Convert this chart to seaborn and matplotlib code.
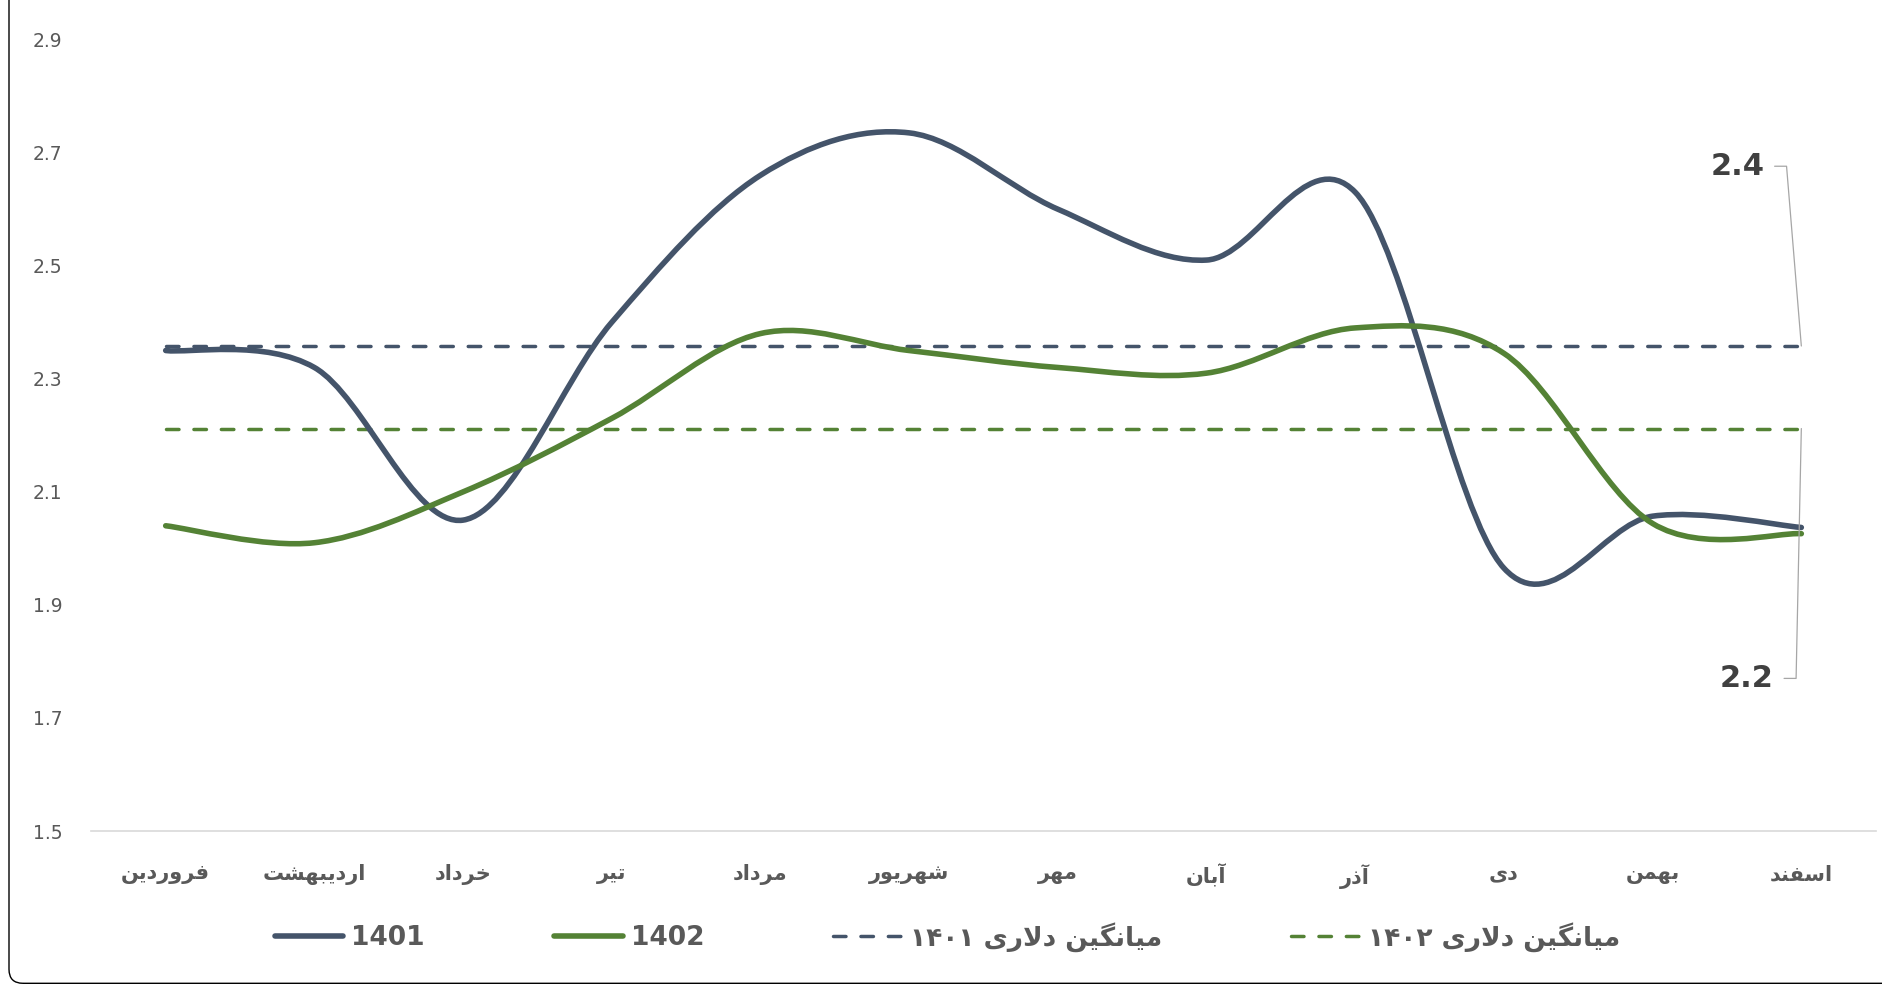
import re
import numpy as np
import matplotlib
matplotlib.use('Agg')
import matplotlib.pyplot as plt
import seaborn as sns
from matplotlib.path import Path
from matplotlib.patches import PathPatch, FancyBboxPatch
from matplotlib.lines import Line2D
from matplotlib.transforms import IdentityTransform

# ── data ────────────────────────────────────────────────────
months = ['فروردین', 'اردیبهشت', 'خرداد', 'تیر', 'مرداد', 'شهریور',
          'مهر', 'آبان', 'آذر', 'دی', 'بهمن', 'اسفند']
s1401 = [2.35, 2.32, 2.05, 2.40, 2.66, 2.735, 2.60, 2.51, 2.63, 1.965, 2.057, 2.037]
s1402 = [2.04, 2.01, 2.10, 2.23, 2.38, 2.35, 2.32, 2.31, 2.39, 2.345, 2.044, 2.026]
avg_1401 = 2.358
avg_1402 = 2.212
avg_labels = ['2.4', '2.2']
yticks = [1.5, 1.7, 1.9, 2.1, 2.3, 2.5, 2.7, 2.9]
legend_labels = ['1401', '1402', 'میانگین دلاری ۱۴۰۱', 'میانگین دلاری ۱۴۰۲']

NAVY = '#44546A'
GREEN = '#548235'
GREY = '#595959'

# ── tiny Persian shaper (matplotlib has no complex text layout) ──
FORMS = {  # isolated, final, initial, medial
    'ا': ('\uFE8D', '\uFE8E', None, None),
    'آ': ('\uFE81', '\uFE82', None, None),
    'ب': ('\uFE8F', '\uFE90', '\uFE91', '\uFE92'),
    'ت': ('\uFE95', '\uFE96', '\uFE97', '\uFE98'),
    'خ': ('\uFEA5', '\uFEA6', '\uFEA7', '\uFEA8'),
    'د': ('\uFEA9', '\uFEAA', None, None),
    'ذ': ('\uFEAB', '\uFEAC', None, None),
    'ر': ('\uFEAD', '\uFEAE', None, None),
    'س': ('\uFEB1', '\uFEB2', '\uFEB3', '\uFEB4'),
    'ش': ('\uFEB5', '\uFEB6', '\uFEB7', '\uFEB8'),
    'ف': ('\uFED1', '\uFED2', '\uFED3', '\uFED4'),
    'ل': ('\uFEDD', '\uFEDE', '\uFEDF', '\uFEE0'),
    'م': ('\uFEE1', '\uFEE2', '\uFEE3', '\uFEE4'),
    'ن': ('\uFEE5', '\uFEE6', '\uFEE7', '\uFEE8'),
    'ه': ('\uFEE9', '\uFEEA', '\uFEEB', '\uFEEC'),
    'و': ('\uFEED', '\uFEEE', None, None),
    '\u06CC': ('\uFEEF', '\uFEF0', '\uFEF3', '\uFEF4'),
    'گ': ('\uFB92', '\uFB93', '\uFB94', '\uFB95'),
}


def fa(text):
    text = text.replace('\u064A', '\u06CC').replace('\u0649', '\u06CC')
    toks, i = [], 0
    while i < len(text):
        if text[i] == 'ل' and i + 1 < len(text) and text[i + 1] in 'اآ':
            toks.append('LA' + text[i + 1]); i += 2
        else:
            toks.append(text[i]); i += 1

    def dual(t):
        return t in FORMS and FORMS[t][2] is not None

    out = []
    for k, t in enumerate(toks):
        prev = toks[k - 1] if k > 0 else None
        nxt = toks[k + 1] if k + 1 < len(toks) else None
        jp = prev is not None and dual(prev)
        if t.startswith('LA'):
            iso, fin = ('\uFEFB', '\uFEFC') if t[2] == 'ا' else ('\uFEF5', '\uFEF6')
            out.append(fin if jp else iso)
            continue
        if t not in FORMS:
            out.append(t)
            continue
        jn = dual(t) and nxt is not None and (nxt in FORMS or nxt.startswith('LA'))
        f = FORMS[t]
        out.append(f[3] if jp and jn else f[1] if jp else f[2] if jn else f[0])
    vis = ''.join(out)[::-1]
    return re.sub(r'[0-9\u06F0-\u06F9]+', lambda m: m.group(0)[::-1], vis)


def smooth_path(vals):
    # Excel-style smoothed line: cubic Bezier through every point
    pts = np.column_stack([np.arange(len(vals), dtype=float), np.asarray(vals, float)])
    verts, codes = [pts[0]], [Path.MOVETO]
    for i in range(len(pts) - 1):
        p0 = pts[i - 1] if i > 0 else pts[i]
        p1, p2 = pts[i], pts[i + 1]
        p3 = pts[i + 2] if i + 2 < len(pts) else pts[i + 1]
        verts += [p1 + (p2 - p0) / 6, p2 - (p3 - p1) / 6, p2]
        codes += [Path.CURVE4] * 3
    return Path(verts, codes)


sns.set_style('white')
plt.rcParams['font.family'] = ['DejaVu Sans']

fig = plt.figure(figsize=(18.83, 9.85), dpi=100)
ax = fig.add_axes([0.04851, 0.1563, 0.9476, 0.8035])

x_idx = np.arange(len(months))
dash = (0, (3.6, 4.3))
sns.lineplot(x=x_idx, y=np.full(len(months), avg_1401), ax=ax, color=NAVY, lw=2.5,
             linestyle=dash, dash_capstyle='round', legend=False)
sns.lineplot(x=x_idx, y=np.full(len(months), avg_1402), ax=ax, color=GREEN, lw=2.5,
             linestyle=dash, dash_capstyle='round', legend=False)

for vals, col in [(s1401, NAVY), (s1402, GREEN)]:
    ax.add_patch(PathPatch(smooth_path(vals), fill=False, edgecolor=col, lw=4.0,
                           capstyle='round', joinstyle='round', zorder=3))

ax.set_xlim(-0.5, len(months) - 0.5)
ax.set_ylim(1.5, 2.9)
ax.set_yticks(yticks)
ax.set_yticklabels([f'{v:.1f}' for v in yticks], color=GREY, fontsize=13.5)
ax.set_xticks(x_idx)
ax.set_xticklabels([fa(m) for m in months], color=GREY, fontsize=15, fontweight='bold')
ax.tick_params(axis='y', length=0, pad=21)
ax.tick_params(axis='x', length=0, pad=24)
ax.set_xlabel(''); ax.set_ylabel('')
for side in ['top', 'right', 'left']:
    ax.spines[side].set_visible(False)
ax.spines['bottom'].set_color('#D9D9D9')
ax.spines['bottom'].set_linewidth(1.2)
ax.grid(False)

# value call-outs for the two averages
ann = dict(arrowstyle='-', color='#A6A6A6', lw=0.9, shrinkA=5, shrinkB=0)
ax.annotate(avg_labels[0], xy=(len(months) - 1, avg_1401), xytext=(10.57, 2.676),
            textcoords='data', ha='center', va='center', fontsize=22,
            fontweight='bold', color='#404040',
            arrowprops=dict(ann, connectionstyle='angle,angleA=0,angleB=94.7,rad=0'))
ax.annotate(avg_labels[1], xy=(len(months) - 1, avg_1402), xytext=(10.634, 1.770),
            textcoords='data', ha='center', va='center', fontsize=22,
            fontweight='bold', color='#404040',
            arrowprops=dict(ann, connectionstyle='angle,angleA=0,angleB=88.8,rad=0'))

handles = [
    Line2D([], [], color=NAVY, lw=4.0, solid_capstyle='round'),
    Line2D([], [], color=GREEN, lw=4.0, solid_capstyle='round'),
    Line2D([], [], color=NAVY, lw=2.5, linestyle=dash, dash_capstyle='round'),
    Line2D([], [], color=GREEN, lw=2.5, linestyle=dash, dash_capstyle='round'),
]
leg = fig.legend(handles, [fa(t) for t in legend_labels], loc='center',
                 bbox_to_anchor=(0.5031, 0.049), ncol=4, frameon=False,
                 handlelength=2.6, handletextpad=0.3, columnspacing=4.9,
                 prop=dict(size=19, weight='bold'))
for t in leg.get_texts():
    t.set_color(GREY)

# chart-area border (rounded corner visible bottom-left)
fig.patches.append(FancyBboxPatch((9, 1.7), 3000, 3000,
                                  boxstyle='round,pad=0,rounding_size=14',
                                  transform=IdentityTransform(), fill=False,
                                  edgecolor='black', lw=1.0, figure=fig))

fig.savefig('out.png', dpi=100, facecolor='white')
